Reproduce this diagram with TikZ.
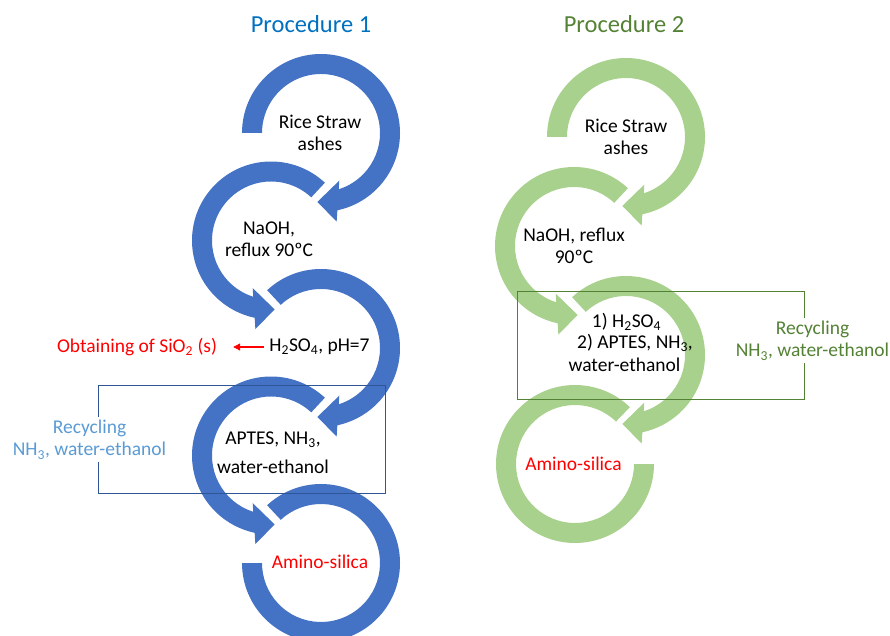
\documentclass[tikz,border=0pt]{standalone}
\usepackage{fontspec}
\setmainfont{Carlito}
\usetikzlibrary{arrows.meta}

\definecolor{ringblue}{HTML}{4472C4}
\definecolor{ringgreen}{HTML}{A9D18E}
\definecolor{titleblue}{HTML}{0070C0}
\definecolor{darkgreen}{HTML}{548235}
\definecolor{lightblue}{HTML}{5B9BD5}
\definecolor{boxblue}{HTML}{2F5597}
\definecolor{purered}{HTML}{FF0000}

% Thick circular arrow running clockwise from angle #2 round to the bottom
\newcommand\CwRing[3]{%
  \fill[#3, shift={(#1)}] (#2:79) arc[start angle=#2, end angle=-78.05, radius=79]
    -- (-80:90) -- (-93:69) -- (-69:51) -- (-72.5:59)
    arc[start angle=-72.5, end angle=#2, radius=59] -- cycle;}
% Mirror image: counter-clockwise from angle #2 round to the bottom
\newcommand\CcwRing[3]{%
  \fill[#3, shift={(#1)}] (#2:79) arc[start angle=#2, end angle=258.05, radius=79]
    -- (260:90) -- (273:69) -- (249:51) -- (252.5:59)
    arc[start angle=252.5, end angle=#2, radius=59] -- cycle;}
% Open ring without a head, from angle #2 to angle #3
\newcommand\OpenRing[4]{%
  \fill[#4, shift={(#1)}] (#2:79) arc[start angle=#2, end angle=#3, radius=79]
    -- (#3:59) arc[start angle=#3, end angle=#2, radius=59] -- cycle;}

\tikzset{
  txt/.style={font=\fontsize{19.5}{22.5}\selectfont, align=center, inner sep=2pt},
  title/.style={font=\fontsize{24.5}{28}\selectfont, inner sep=2pt},
  recycle/.style={txt, fill=white, inner sep=3pt},
  loopbox/.style={line width=0.9pt},
  sideflow/.style={purered, line width=1.1pt, -{Triangle[length=7pt,width=7pt]}},
}

\begin{document}
\begin{tikzpicture}[x=1pt,y=1pt]
\useasboundingbox (0,0) rectangle (890,635);

% ring centres
\coordinate (b1) at (321,502);
\coordinate (b2) at (271,394.5);
\coordinate (b3) at (321,287);
\coordinate (b4) at (271,179.5);
\coordinate (b5) at (321,72);
\coordinate (g1) at (626,498);
\coordinate (g2) at (574,389);
\coordinate (g3) at (626,280);
\coordinate (g4) at (575,171);

% Procedure 1 chain
\OpenRing{b5}{180}{493}{ringblue}
\CcwRing{b4}{47}{ringblue}
\CwRing{b3}{133}{ringblue}
\CcwRing{b2}{47}{ringblue}
\CwRing{b1}{180}{ringblue}

% Procedure 2 chain
\OpenRing{g4}{0}{-314}{ringgreen}
\CwRing{g3}{133}{ringgreen}
\CcwRing{g2}{47}{ringgreen}
\CwRing{g1}{180}{ringgreen}

% recycling loops
\draw[loopbox, boxblue] (98,250) rectangle (385,142);
\draw[loopbox, darkgreen] (517,344) rectangle (804,236);

% titles
\node[title, text=titleblue] (title1) at (311,611) {Procedure 1};
\node[title, text=darkgreen] (title2) at (624,611) {Procedure 2};

% Procedure 1 labels
\node[txt] (p1a) at (320,502) {Rice Straw\\ashes};
\node[txt] (p1b) at (269,396) {NaOH,\\reflux 90ºC};
\node[txt] (p1c) at (319.5,288) {H\textsubscript{2}SO\textsubscript{4}, pH=7};
\node[txt, text=purered] (p1side) at (137,288) {Obtaining of SiO\textsubscript{2} (s)};
\node[txt] (p1d) at (273,182.5) {APTES, NH\textsubscript{3},\\[6.5pt]water-ethanol};
\node[txt, text=purered] (p1e) at (320,73) {Amino-silica};
\node[recycle, text=lightblue] (p1rec) at (89.5,195.5) {Recycling\\NH\textsubscript{3}, water-ethanol};

\draw[sideflow, shorten <=3pt, shorten >=14pt] (p1c.west) -- (p1side.east);

% Procedure 2 labels
\node[txt] (p2a) at (626,498) {Rice Straw\\ashes};
\node[txt] (p2b) at (574,389) {NaOH, reflux\\90ºC};
\node[txt] (p2c1) at (626.5,313) {1) H\textsubscript{2}SO\textsubscript{4}};
\node[txt] (p2c2) at (635,292) {2) APTES, NH\textsubscript{3},};
\node[txt] (p2c3) at (624.5,270) {water-ethanol};
\node[txt, text=purered] (p2d) at (573.5,171) {Amino-silica};
\node[recycle, text=darkgreen] (p2rec) at (812.5,294.5) {Recycling\\NH\textsubscript{3}, water-ethanol};
\end{tikzpicture}
\end{document}
